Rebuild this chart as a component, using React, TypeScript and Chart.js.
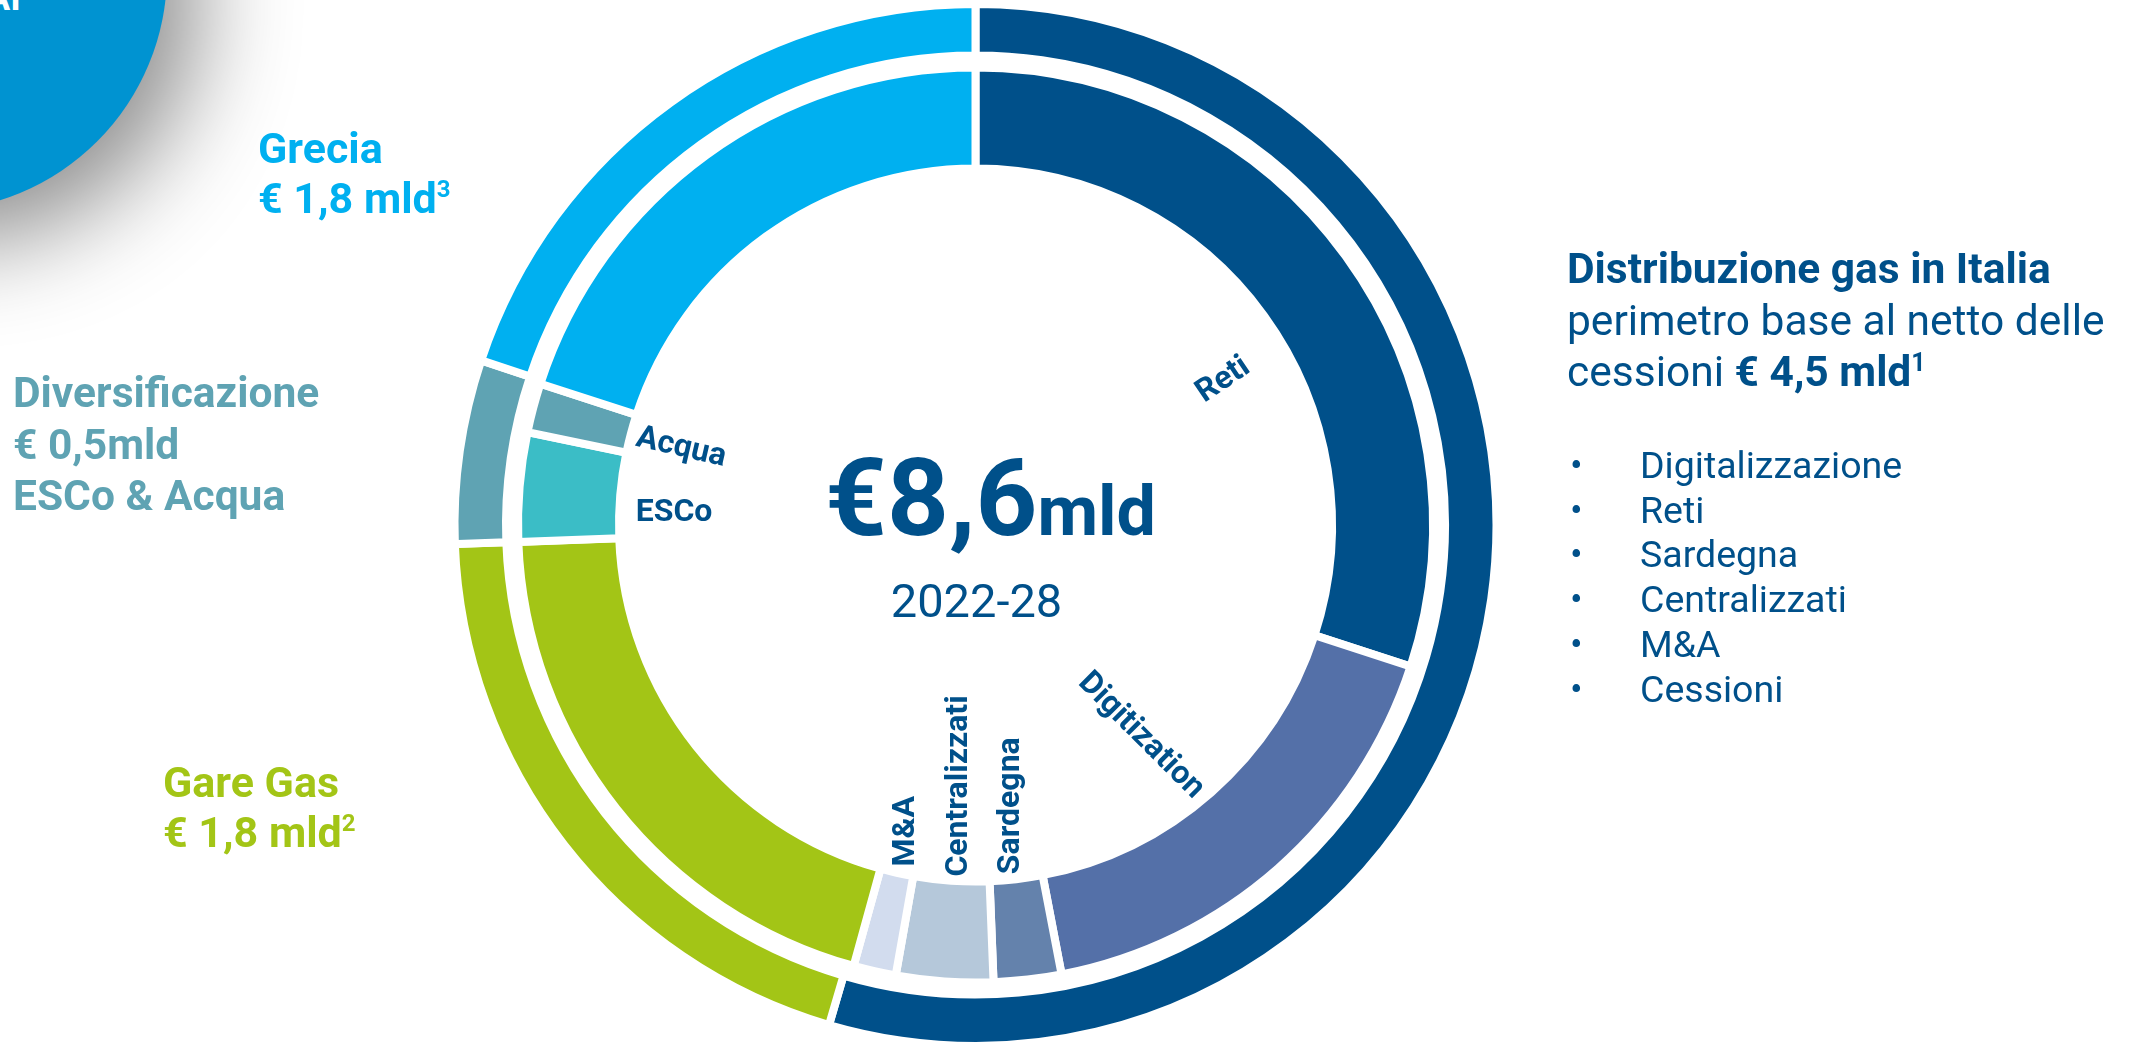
import React, { useEffect, useRef } from "react";
import { Chart, registerables } from "chart.js";

Chart.register(...registerables);

// ---------- data (€ mld) ----------
const outerCategories = ["Distribuzione gas in Italia", "Gare Gas", "Diversificazione", "Grecia"];
const outerValues = [4.69, 1.71, 0.49, 1.71];

const innerCategories = ["Reti", "Digitization", "Sardegna", "Centralizzati", "M&A", "Gare Gas", "ESCo", "Acqua", "Grecia"];
const innerValues = [2.58, 1.46, 0.205, 0.294, 0.129, 1.73, 0.33, 0.15, 1.72];

const bulletItems = ["Digitalizzazione", "Reti", "Sardegna", "Centralizzati", "M&A", "Cessioni"];

const totalValue = "€8,6";
const totalUnit = "mld";
const periodLabel = "2022-28";

// ---------- styles ----------
const NAVY = "#00508A";
const LIGHT_BLUE = "#00B0F0";
const TEAL = "#5FA3B3";
const GREEN = "#A3C516";

const outerColors = [NAVY, GREEN, TEAL, LIGHT_BLUE];
const innerColors = [NAVY, "#5470A8", "#6482AC", "#B5C8DA", "#D2DCEE", GREEN, "#3BBDC6", TEAL, LIGHT_BLUE];

// per inner segment: position along arc (fraction), radius of text centre, rotation (deg)
const innerLabelStyle: ({ frac: number; r: number; rot: number } | null)[] = [
  { frac: 0.553, r: 287, rot: -34 },
  { frac: 0.554, r: 268, rot: 45 },
  { frac: 0.42, r: 283, rot: -90 },
  { frac: 0.47, r: 261.5, rot: -90 },
  { frac: 0.5, r: 314, rot: -90 },
  null,
  { frac: 0.32, r: 301.7, rot: 0 },
  { frac: 0.47, r: 304.4, rot: 13 },
  null,
];

const supStyle: React.CSSProperties = {
  fontSize: 24,
  position: "relative",
  top: -16,
  verticalAlign: "baseline",
  lineHeight: 0,
};

export default function App() {
  const ref = useRef<HTMLCanvasElement | null>(null);

  useEffect(() => {
    const canvas = ref.current;
    if (!canvas) return;
    const labelPlugin = {
      id: "segmentLabels",
      afterDatasetsDraw(chart: any) {
        const meta = chart.getDatasetMeta(2);
        const ctx = chart.ctx as CanvasRenderingContext2D;
        ctx.save();
        ctx.fillStyle = NAVY;
        ctx.font = "bold 32px Roboto";
        ctx.textAlign = "center";
        ctx.textBaseline = "middle";
        innerLabelStyle.forEach((st, i) => {
          if (!st) return;
          const arc = meta.data[i];
          const { x, y, startAngle, endAngle } = arc.getProps(["x", "y", "startAngle", "endAngle"], true);
          const a = startAngle + st.frac * (endAngle - startAngle);
          const px = x + st.r * Math.cos(a);
          const py = y + st.r * Math.sin(a);
          ctx.save();
          ctx.translate(px, py);
          ctx.rotate((st.rot * Math.PI) / 180);
          ctx.fillText(innerCategories[i], 0, 0);
          ctx.restore();
        });
        ctx.restore();
      },
    };

    const chart = new Chart(canvas, {
      type: "doughnut",
      data: {
        labels: innerCategories,
        datasets: [
          {
            label: "Perimetro",
            data: outerValues,
            backgroundColor: outerColors,
            borderColor: "#ffffff",
            borderWidth: 8,
            borderJoinStyle: "miter",
            weight: 51.5,
          } as any,
          {
            label: "spacer",
            data: [1],
            backgroundColor: "rgba(0,0,0,0)",
            borderWidth: 0,
            weight: 12,
          } as any,
          {
            label: "Dettaglio",
            data: innerValues,
            backgroundColor: innerColors,
            borderColor: "#ffffff",
            borderWidth: 8,
            borderJoinStyle: "miter",
            weight: 101,
          } as any,
        ],
      },
      options: {
        responsive: false,
        animation: false,
        devicePixelRatio: 1,
        radius: 521,
        cutout: "68.43%",
        layout: { padding: { top: 6, right: 185, bottom: 0, left: 0 } },
        events: [],
        plugins: { legend: { display: false }, tooltip: { enabled: false } },
      } as any,
      plugins: [labelPlugin],
    });
    return () => chart.destroy();
  }, []);

  return (
    <div
      style={{
        position: "absolute",
        left: 0,
        top: 0,
        width: 2136,
        height: 1044,
        overflow: "hidden",
        background: "#ffffff",
        fontFamily: "Roboto, sans-serif",
      }}
    >
      {/* decorative circle top-left */}
      <div
        style={{
          position: "absolute",
          left: -309,
          top: -265,
          width: 476,
          height: 476,
          borderRadius: "50%",
          background: "#0093D1",
          boxShadow: "30px 30px 100px rgba(0,0,0,0.45)",
        }}
      />
      <div
        style={{
          position: "absolute",
          left: -14,
          top: -20,
          font: "bold 36px/36px Roboto",
          color: "#ffffff",
        }}
      >
        AI
      </div>

      <canvas
        ref={ref}
        width={2136}
        height={1044}
        style={{ position: "absolute", left: 0, top: 0, width: 2136, height: 1044 }}
      />

      {/* centre */}
      <div
        style={{
          position: "absolute",
          left: 0,
          top: 444,
          width: 1981,
          textAlign: "center",
          font: "bold 108px/108px Roboto",
          color: NAVY,
          whiteSpace: "nowrap",
        }}
      >
        {totalValue}
        <span style={{ fontSize: 70 }}>{totalUnit}</span>
      </div>
      <div
        style={{
          position: "absolute",
          left: 0,
          top: 577,
          width: 1953,
          textAlign: "center",
          font: "47px/47px Roboto",
          color: NAVY,
        }}
      >
        {periodLabel}
      </div>

      {/* left side labels */}
      <div style={{ position: "absolute", left: 258, top: 123, font: "bold 43px/50px Roboto", color: LIGHT_BLUE, whiteSpace: "nowrap" }}>
        <div>{outerCategories[3]}</div>
        <div>
          € 1,8 mld<span style={supStyle}>3</span>
        </div>
      </div>
      <div style={{ position: "absolute", left: 13, top: 367, font: "bold 42.5px/51.5px Roboto", color: TEAL, whiteSpace: "nowrap" }}>
        <div>{outerCategories[2]}</div>
        <div>€ 0,5mld</div>
        <div>ESCo &amp; Acqua</div>
      </div>
      <div style={{ position: "absolute", left: 163, top: 757, font: "bold 43px/50px Roboto", color: GREEN, whiteSpace: "nowrap" }}>
        <div>{outerCategories[1]}</div>
        <div>
          € 1,8 mld<span style={supStyle}>2</span>
        </div>
      </div>

      {/* right block */}
      <div style={{ position: "absolute", left: 1567, top: 243, font: "42.5px/51.7px Roboto", color: NAVY, whiteSpace: "nowrap" }}>
        <div style={{ fontWeight: "bold" }}>{outerCategories[0]}</div>
        <div>perimetro base al netto delle</div>
        <div>
          cessioni{" "}
          <b>
            € 4,5 mld<span style={{ ...supStyle, fontSize: 25, top: -15 }}>1</span>
          </b>
        </div>
      </div>
      <div style={{ position: "absolute", left: 1570, top: 443, font: "37.5px/44.7px Roboto", color: NAVY, whiteSpace: "nowrap" }}>
        {bulletItems.map((it) => (
          <div key={it} style={{ display: "flex" }}>
            <span style={{ width: 70, flex: "none" }}>•</span>
            <span>{it}</span>
          </div>
        ))}
      </div>
    </div>
  );
}
